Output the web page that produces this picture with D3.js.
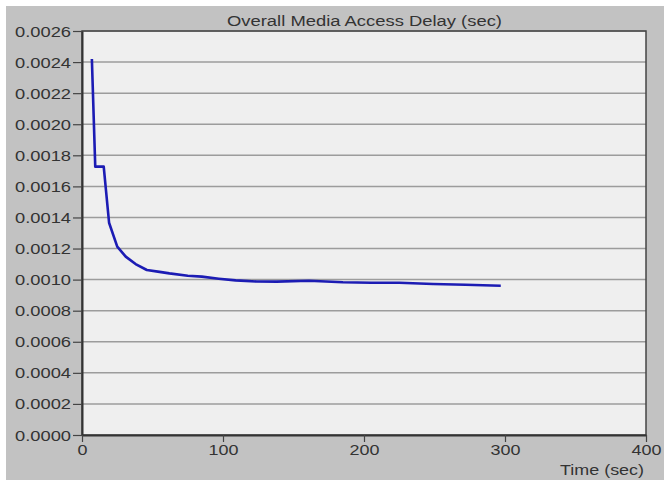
<!DOCTYPE html>
<html>
<head>
<meta charset="utf-8">
<script src="https://cdn.jsdelivr.net/npm/d3@7"></script>
<style>
  body { margin: 0; background: #fff; }
  svg text { font-family: "Liberation Sans", Arial, sans-serif; fill: #333; }
</style>
</head>
<body>
<svg id="chart" width="668" height="482"></svg>
<script>
// time (sec) and delay (sec)
var times = [7, 9.4, 15.4, 19.2, 25, 31, 38, 46, 55, 62, 75, 85, 97, 109, 124, 138, 161, 185, 205, 225, 249, 272, 297];
var delays = [0.00242, 0.001727, 0.001727, 0.001366, 0.001212, 0.001148, 0.0011, 0.001062, 0.00105, 0.00104, 0.001025,
  0.001019, 0.001006, 0.000995, 0.000988, 0.000987, 0.000993, 0.000983, 0.00098, 0.00098, 0.000972, 0.000967, 0.000961];
var xTicks = [0, 100, 200, 300, 400];
var yTicks = d3.range(0, 14).map(function (i) { return i * 0.0002; });

var chartTitle = "Overall Media Access Delay (sec)";
var xTitle = "Time (sec)";

var svg = d3.select("#chart");
var plotLeft = 82, plotRight = 646, plotTop = 31, plotBottom = 435;

var x = d3.scaleLinear().domain([0, 400]).range([plotLeft, plotRight]);
var y = d3.scaleLinear().domain([0, 0.0026]).range([plotBottom, plotTop]);

// outer gray panel
svg.append("rect").attr("x", 6).attr("y", 6).attr("width", 658).attr("height", 474).style("fill", "#c2c2c2");

// plot area
svg.append("rect")
  .attr("x", plotLeft).attr("y", plotTop)
  .attr("width", plotRight - plotLeft).attr("height", plotBottom - plotTop)
  .style("fill", "#efefef");

// horizontal grid
svg.append("g").selectAll("line")
  .data(yTicks.filter(function (d, i) { return i > 0; }))
  .enter().append("line")
  .attr("x1", plotLeft).attr("x2", plotRight)
  .attr("y1", function (d) { return y(d); })
  .attr("y2", function (d) { return y(d); })
  .style("stroke", "#9c9c9c")
  .style("stroke-width", 1.5);

// frame
svg.append("rect")
  .attr("x", plotLeft).attr("y", plotTop)
  .attr("width", plotRight - plotLeft).attr("height", plotBottom - plotTop)
  .style("fill", "none").style("stroke", "#444").style("stroke-width", 1.5);

// y axis
var yAxis = svg.append("g")
  .attr("transform", "translate(" + plotLeft + ",0)")
  .call(d3.axisLeft(y).tickValues(yTicks).tickFormat(d3.format(".4f")).tickSizeInner(9).tickSizeOuter(0));
yAxis.select(".domain").style("stroke", "#333").style("stroke-width", 2);
yAxis.selectAll(".tick line").style("stroke", "#444").style("stroke-width", 1.2);
yAxis.selectAll(".tick text")
  .attr("x", -11).attr("dy", "0.36em")
  .attr("textLength", 56).attr("lengthAdjust", "spacingAndGlyphs")
  .style("font-size", "14px").style("fill", "#333");

// x axis
var xAxis = svg.append("g")
  .attr("transform", "translate(0," + plotBottom + ")")
  .call(d3.axisBottom(x).tickValues(xTicks).tickFormat(d3.format("d")).tickSizeInner(7).tickSizeOuter(0));
xAxis.select(".domain").style("stroke", "#333").style("stroke-width", 2);
xAxis.selectAll(".tick line").style("stroke", "#444").style("stroke-width", 1.2);
xAxis.selectAll(".tick text")
  .attr("y", 10).attr("dy", "0.71em")
  .attr("textLength", function (d) { return String(d).length * 10; })
  .attr("lengthAdjust", "spacingAndGlyphs")
  .style("font-size", "14px").style("fill", "#333");

// series
var line = d3.line()
  .x(function (d, i) { return x(times[i]); })
  .y(function (d) { return y(d); });
svg.append("path")
  .datum(delays)
  .attr("d", line)
  .style("fill", "none")
  .style("stroke", "#1c1cb4")
  .style("stroke-width", 2.6)
  .style("stroke-linejoin", "round");

// titles
svg.append("text")
  .attr("x", 227).attr("y", 26)
  .attr("textLength", 275).attr("lengthAdjust", "spacingAndGlyphs")
  .style("font-size", "14px")
  .text(chartTitle);
svg.append("text")
  .attr("x", 560).attr("y", 475)
  .attr("textLength", 84).attr("lengthAdjust", "spacingAndGlyphs")
  .style("font-size", "14px")
  .text(xTitle);
</script>
</body>
</html>
